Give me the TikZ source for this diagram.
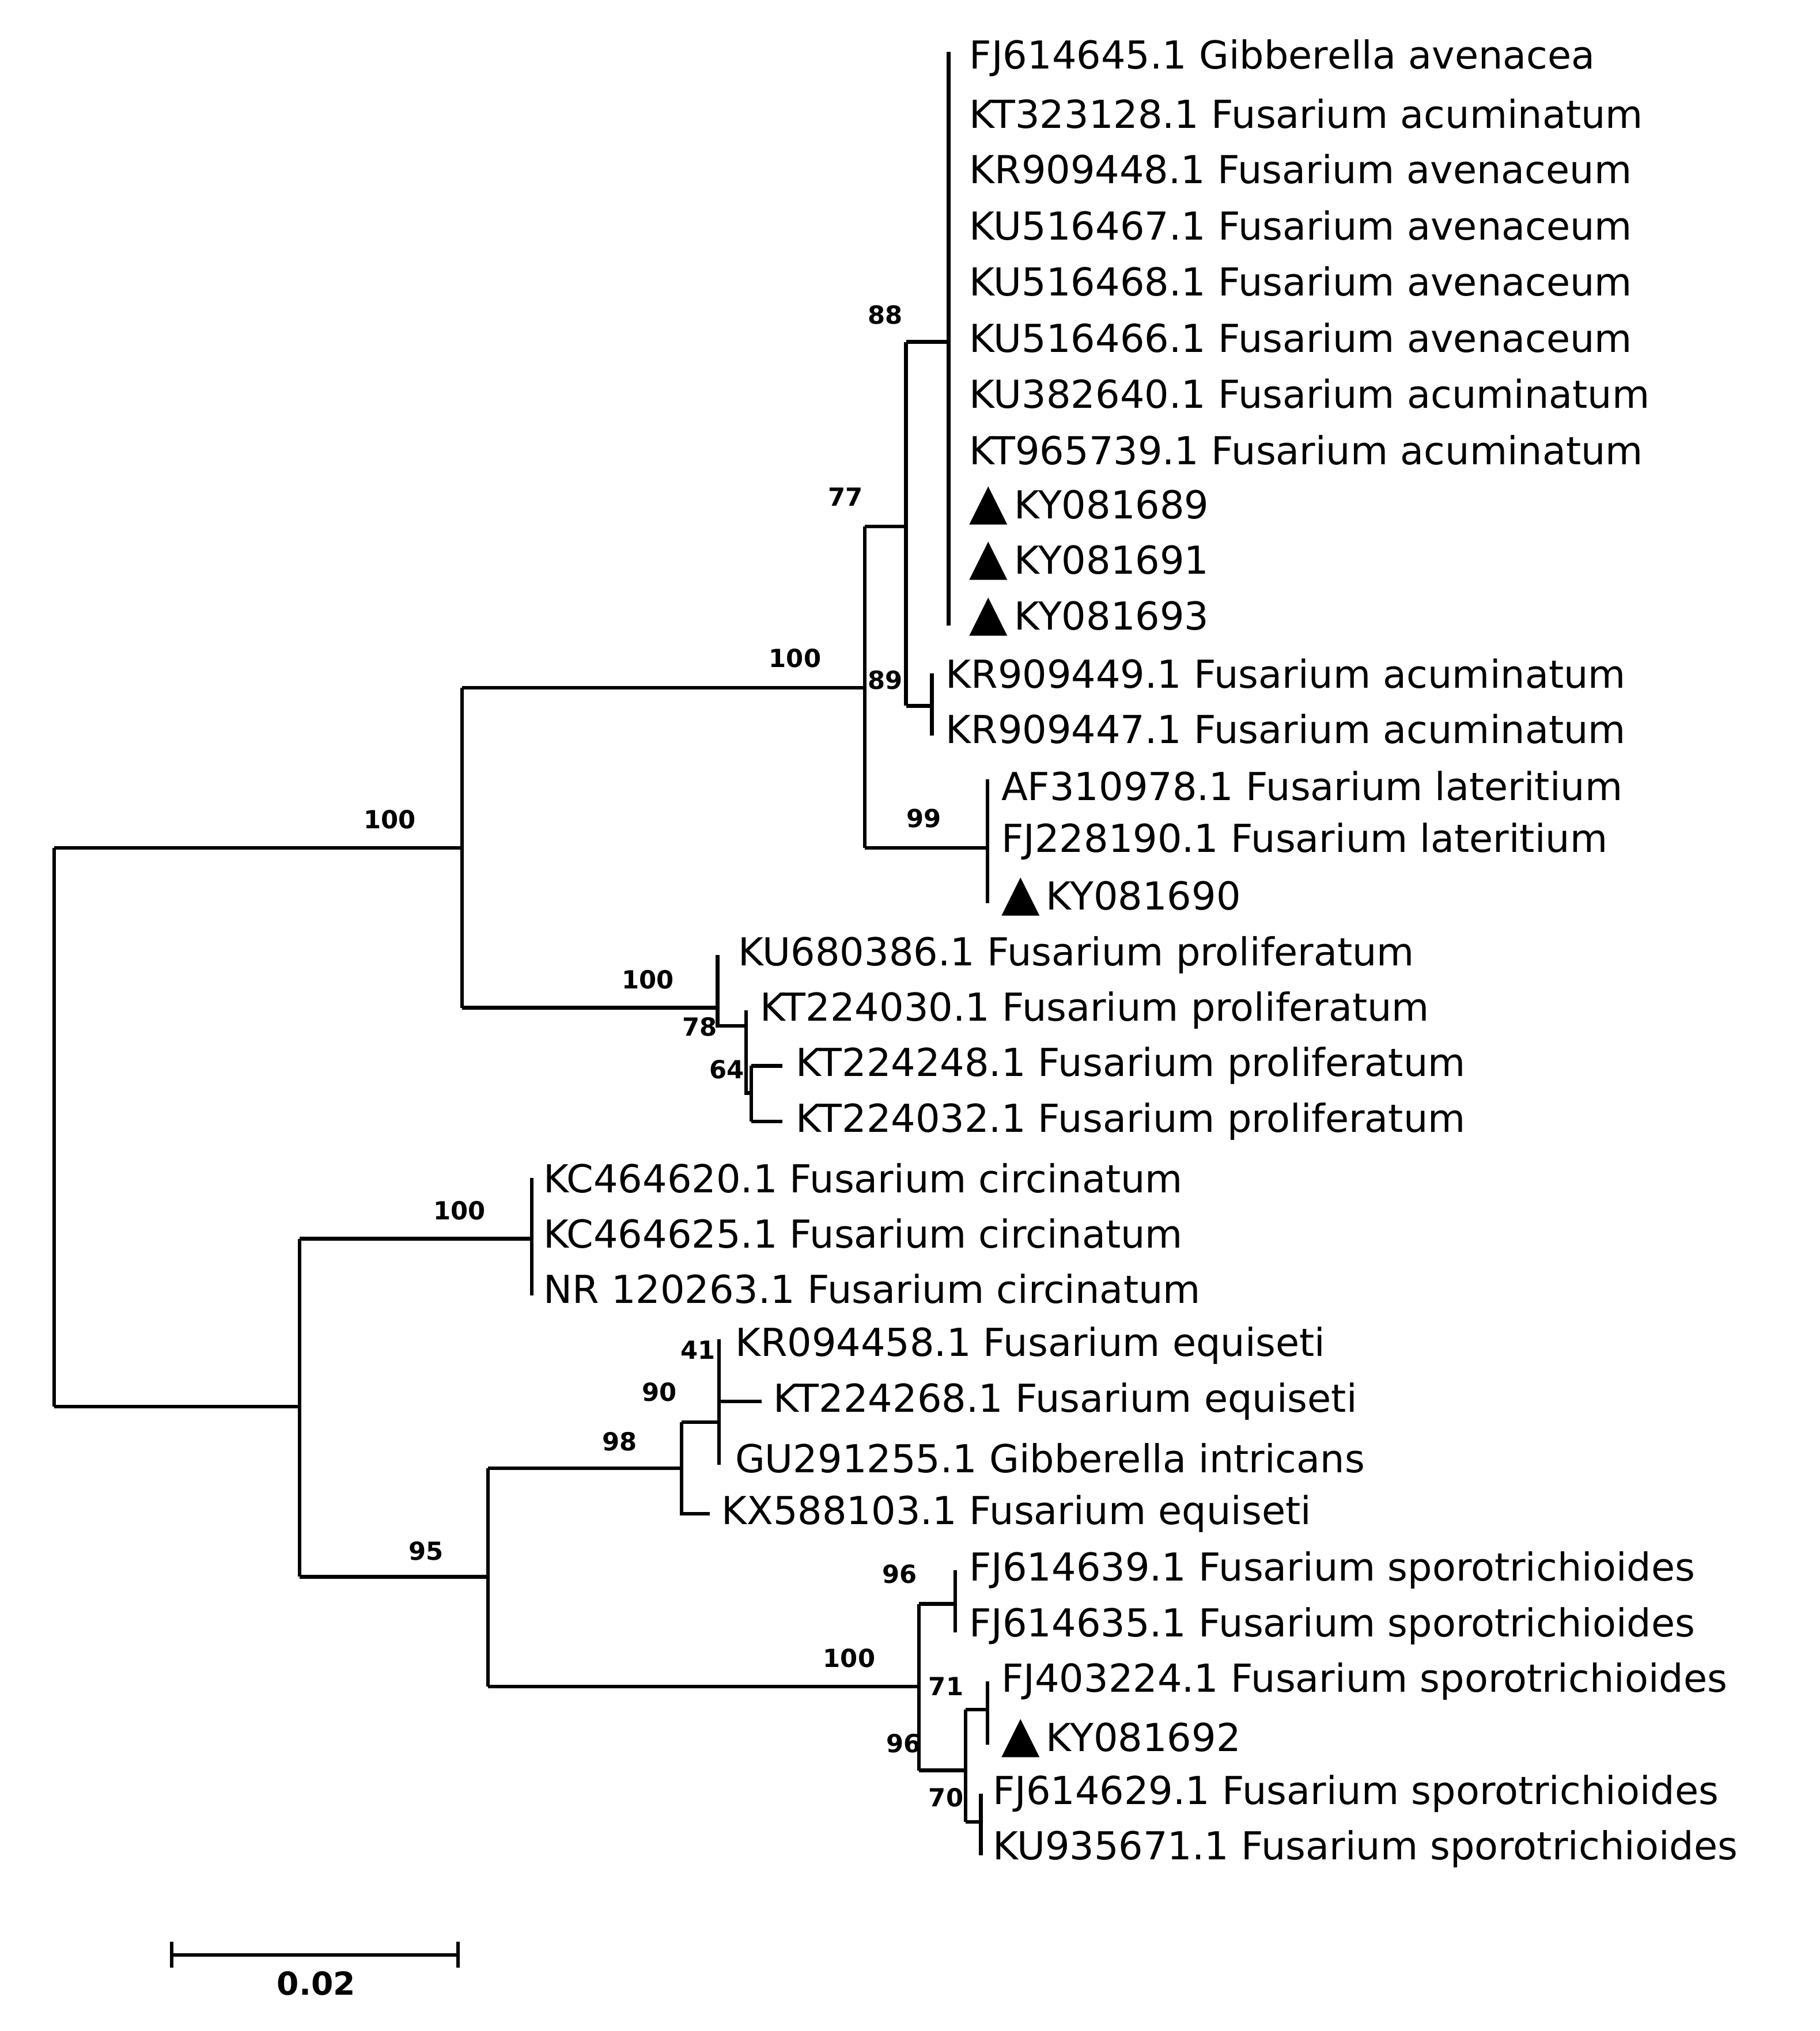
\documentclass[tikz,border=0pt]{standalone}
\usepackage{fontspec}
\setmainfont{DejaVu Sans}
\newfontfamily\djv{DejaVu Sans}
\begin{document}
\begin{tikzpicture}[x=0.02cm,y=-0.02cm,
  br/.style={line width=1.6pt},
  leaf/.style={anchor=west,inner xsep=9pt,inner ysep=0pt,font=\fontsize{17}{20}\selectfont},
  bs/.style={font=\bfseries\fontsize{11}{13}\selectfont,inner sep=0pt}]
\useasboundingbox (0,0) rectangle (1410,1574);
\newcommand{\tri}{{\djv\fontsize{22}{22}\selectfont ▲}\,}
% leaves
\foreach \y/\t [count=\i] in {45/FJ614645.1 Gibberella avenacea,88/KT323128.1 Fusarium acuminatum,131/KR909448.1 Fusarium avenaceum,175/KU516467.1 Fusarium avenaceum,218/KU516468.1 Fusarium avenaceum,262/KU516466.1 Fusarium avenaceum,305/KU382640.1 Fusarium acuminatum,349/KT965739.1 Fusarium acuminatum}
  \node[leaf] (a\i) at (735,\y) {\t};
\node[leaf] (a9) at (735,392) {\tri KY081689};
\node[leaf] (a10) at (735,435) {\tri KY081691};
\node[leaf] (a11) at (735,478) {\tri KY081693};
\node[leaf,inner xsep=6pt] (b1) at (722,522) {KR909449.1 Fusarium acuminatum};
\node[leaf,inner xsep=6pt] (b2) at (722,565) {KR909447.1 Fusarium acuminatum};
\node[leaf,inner xsep=6pt] (c1) at (765,609) {AF310978.1 Fusarium lateritium};
\node[leaf,inner xsep=6pt] (c2) at (765,652) {FJ228190.1 Fusarium lateritium};
\node[leaf,inner xsep=6pt] (c3) at (765,695) {\tri KY081690};
\node[leaf,inner xsep=9pt] (d1) at (556,740) {KU680386.1 Fusarium proliferatum};
\node[leaf,inner xsep=6pt] (d2) at (578,783) {KT224030.1 Fusarium proliferatum};
\node[leaf,inner xsep=6pt] (d3) at (606,826) {KT224248.1 Fusarium proliferatum};
\node[leaf,inner xsep=6pt] (d4) at (606,869) {KT224032.1 Fusarium proliferatum};
\node[leaf,inner xsep=5pt] (e1) at (412,913) {KC464620.1 Fusarium circinatum};
\node[leaf,inner xsep=5pt] (e2) at (412,956) {KC464625.1 Fusarium circinatum};
\node[leaf,inner xsep=5pt] (e3) at (412,999) {NR 120263.1 Fusarium circinatum};
\node[leaf,inner xsep=7pt] (f1) at (557,1043) {KR094458.1 Fusarium equiseti};
\node[leaf,inner xsep=5pt] (f2) at (590,1086) {KT224268.1 Fusarium equiseti};
\node[leaf,inner xsep=7pt] (f3) at (557,1130) {GU291255.1 Gibberella intricans};
\node[leaf,inner xsep=5pt] (f4) at (550,1173) {KX588103.1 Fusarium equiseti};
\node[leaf,inner xsep=6pt] (g1) at (740,1217) {FJ614639.1 Fusarium sporotrichioides};
\node[leaf,inner xsep=6pt] (g2) at (740,1260) {FJ614635.1 Fusarium sporotrichioides};
\node[leaf,inner xsep=6pt] (g3) at (765,1303) {FJ403224.1 Fusarium sporotrichioides};
\node[leaf,inner xsep=6pt] (g4) at (765,1347) {\tri KY081692};
\node[leaf,inner xsep=5pt] (g5) at (760,1390) {FJ614629.1 Fusarium sporotrichioides};
\node[leaf,inner xsep=5pt] (g6) at (760,1433) {KU935671.1 Fusarium sporotrichioides};
% internal coordinates
\coordinate (r) at (42,657);
\coordinate (n1) at (358,657); \coordinate (n2) at (670,533);
\coordinate (n3) at (702,408); \coordinate (n4) at (735,265);
\coordinate (n5) at (722,547); \coordinate (n6) at (765,657);
\coordinate (n7) at (556,781); \coordinate (n8) at (578,795);
\coordinate (n9) at (582,847);
\coordinate (m1) at (232,1090); \coordinate (m2) at (412,960);
\coordinate (m3) at (378,1222); \coordinate (m4) at (528,1138);
\coordinate (m5) at (557,1102); \coordinate (m6) at (712,1307);
\coordinate (m7) at (740,1243); \coordinate (m8) at (748,1372);
\coordinate (m9) at (765,1325); \coordinate (m10) at (760,1412);
% branches
\draw[br] (42,657) -- (42,1090);
\draw[br] (r) -- (n1); \draw[br] (42,1090) -- (m1);
\draw[br] (358,533) -- (358,781);
\draw[br] (358,533) -- (n2); \draw[br] (358,781) -- (n7);
\draw[br] (670,408) -- (670,657);
\draw[br] (670,408) -- (n3); \draw[br] (670,657) -- (n6);
\draw[br] (702,265) -- (702,547);
\draw[br] (702,265) -- (n4); \draw[br] (702,547) -- (n5);
\draw[br] (735,40) -- (735,485);
\draw[br] (722,522) -- (722,570);
\draw[br] (765,604) -- (765,700);
\draw[br] (556,740) -- (556,795) -- (n8);
\draw[br] (578,783) -- (578,847) -- (n9);
\draw[br] (582,826) -- (582,869);
\draw[br] (582,826) -- (d3.west); \draw[br] (582,869) -- (d4.west);
\draw[br] (232,960) -- (232,1222);
\draw[br] (232,960) -- (m2); \draw[br] (232,1222) -- (m3);
\draw[br] (412,913) -- (412,1004);
\draw[br] (378,1138) -- (378,1307);
\draw[br] (378,1138) -- (m4); \draw[br] (378,1307) -- (m6);
\draw[br] (528,1102) -- (528,1173) -- (f4.west);
\draw[br] (528,1102) -- (m5);
\draw[br] (557,1038) -- (557,1135);
\draw[br] (557,1086) -- (f2.west);
\draw[br] (712,1243) -- (712,1372);
\draw[br] (712,1243) -- (m7); \draw[br] (712,1372) -- (m8);
\draw[br] (740,1217) -- (740,1265);
\draw[br] (748,1325) -- (748,1412);
\draw[br] (748,1325) -- (m9); \draw[br] (748,1412) -- (m10);
\draw[br] (765,1303) -- (765,1352);
\draw[br] (760,1390) -- (760,1438);
% bootstrap
\foreach \x/\y/\t in {302/635/100,616/510/100,655/385/77,686/244/88,686/527/89,716/634/99,502/759/100,542/796/78,563/829/64,356/938/100,330/1202/95,480/1117/98,511/1079/90,541/1046/41,658/1285/100,697/1220/96,700/1351/96,733/1307/71,733/1393/70}
  \node[bs] at (\x,\y) {\t};
% scale bar
\coordinate (s1) at (133,1515); \coordinate (s2) at (355,1515);
\draw[br] (s1) -- (s2);
\draw[br] (133,1505) -- (133,1525); \draw[br] (355,1505) -- (355,1525);
\node[font=\bfseries\fontsize{14}{16}\selectfont] (sl) at (245,1537) {0.02};
\end{tikzpicture}
\end{document}
